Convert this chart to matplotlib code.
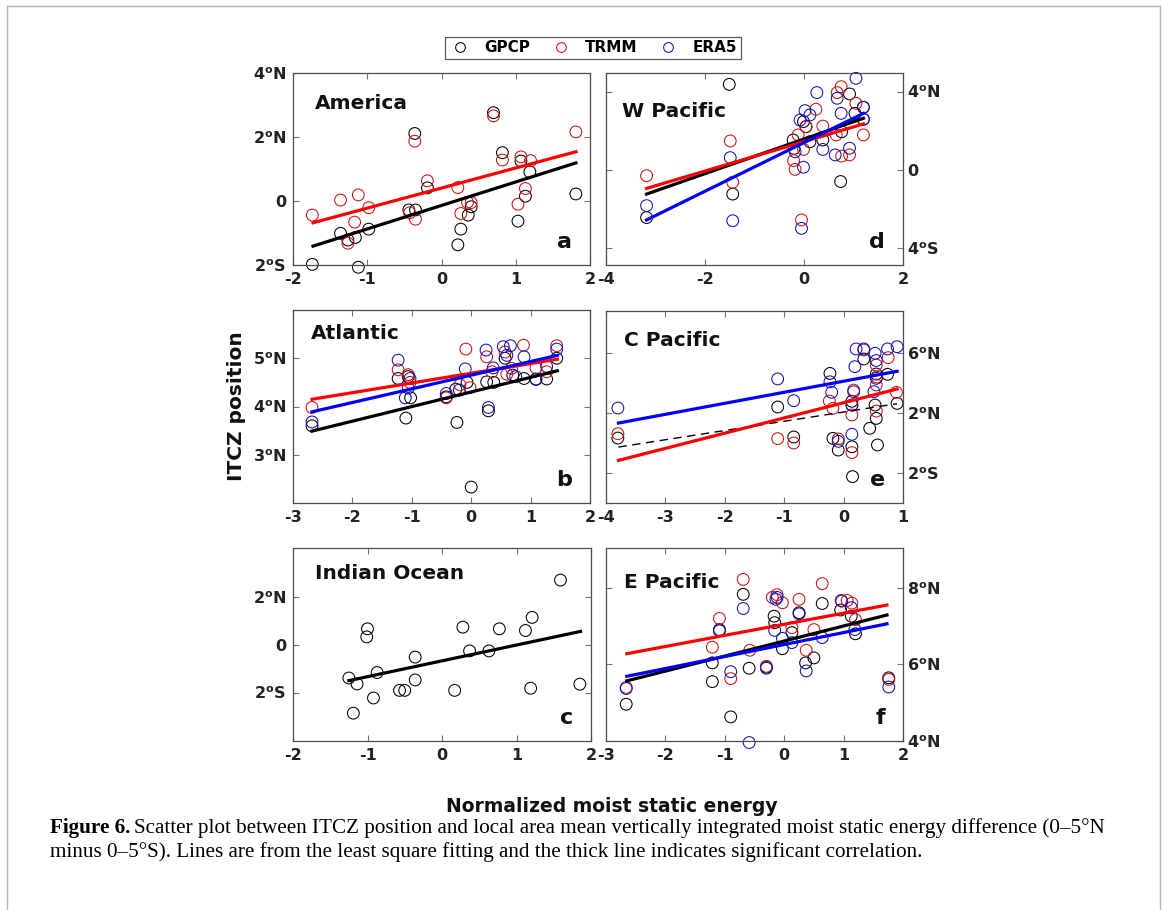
import matplotlib
matplotlib.use("Agg")
import matplotlib.pyplot as plt
from matplotlib.lines import Line2D

plt.rcParams['font.family'] = 'DejaVu Sans'
plt.rcParams['font.weight'] = 'bold'
plt.rcParams['mathtext.default'] = 'bf'

# ---- data ----
# (a) America
am_gpcp_x = [-1.74, -1.36, -1.26, -1.16, -1.12, -0.98, -0.36, -0.44, -0.35, -0.19, 0.22, 0.26, 0.36, 0.40, 0.70, 0.82, 1.03, 1.07, 1.13, 1.19, 1.81]
am_gpcp_y = [-1.98, -1.01, -1.22, -1.14, -2.07, -0.88, 2.11, -0.28, -0.28, 0.41, -1.37, -0.88, -0.44, -0.18, 2.76, 1.51, -0.63, 1.25, 0.15, 0.91, 0.22]
am_trmm_x = [-1.74, -1.36, -1.26, -1.17, -1.12, -0.98, -0.43, -0.36, -0.35, -0.19, 0.22, 0.26, 0.35, 0.40, 0.70, 0.82, 1.03, 1.07, 1.13, 1.20, 1.81]
am_trmm_y = [-0.44, 0.03, -1.32, -0.66, 0.19, -0.21, -0.37, 1.87, -0.57, 0.63, 0.42, -0.39, -0.04, -0.05, 2.66, 1.28, -0.10, 1.38, 0.39, 1.26, 2.16]
am_fit_x = [-1.73, 1.81]
am_fit_gpcp = [-1.41, 1.19]
am_fit_trmm = [-0.68, 1.54]

# (b) Atlantic
at_gpcp_x = [-2.68, -1.23, -1.06, -1.02, -1.10, -0.42, -0.24, -0.26, -0.07, 0.00, 0.26, 0.29, 0.38, 0.57, 0.70, 0.89, 1.09, 1.27, 1.44]
at_gpcp_y = [3.60, 4.58, 4.62, 4.18, 3.76, 4.20, 3.67, 4.36, 4.50, 2.33, 4.51, 3.91, 4.50, 5.00, 4.65, 4.58, 4.56, 4.57, 5.00]
at_trmm_x = [-2.68, -1.23, -1.06, -1.03, -0.42, -0.19, -0.09, -0.02, 0.26, 0.35, 0.57, 0.60, 0.68, 0.88, 1.09, 1.27, 1.44]
at_trmm_y = [3.98, 4.76, 4.66, 4.50, 4.18, 4.45, 5.19, 4.39, 5.03, 4.72, 5.13, 4.67, 4.79, 5.27, 4.80, 4.72, 5.26]
at_era5_x = [-2.68, -1.23, -1.03, -1.06, -1.11, -0.42, -0.20, -0.10, 0.25, 0.29, 0.37, 0.54, 0.60, 0.66, 0.75, 0.89, 1.09, 1.27, 1.44]
at_era5_y = [3.68, 4.96, 4.58, 4.38, 4.18, 4.27, 4.34, 4.78, 5.17, 3.98, 4.80, 5.24, 5.06, 5.26, 4.62, 5.03, 4.57, 4.83, 5.19]
at_fit_x = [-2.68, 1.45]
at_fit_gpcp = [3.49, 4.74]
at_fit_trmm = [4.15, 4.98]
at_fit_era5 = [3.89, 5.06]

# (c) Indian Ocean
io_gpcp_x = [-1.25, -1.14, -1.19, -1.00, -1.01, -0.87, -0.92, -0.57, -0.50, -0.36, -0.36, 0.17, 0.28, 0.37, 0.63, 0.77, 1.12, 1.21, 1.19, 1.59, 1.85]
io_gpcp_y = [-1.39, -1.64, -2.87, 0.68, 0.34, -1.16, -2.23, -1.91, -1.91, -0.51, -1.47, -1.91, 0.75, -0.25, -0.25, 0.68, 0.61, 1.16, -1.82, 2.73, -1.65]
io_fit_x = [-1.25, 1.86]
io_fit_gpcp = [-1.50, 0.57]

# (d) W Pacific
wp_gpcp_x = [-3.18, -1.51, -1.44, -0.22, -0.20, -0.01, 0.04, 0.12, 0.38, 0.74, 0.76, 0.92, 1.03, 1.20, 1.20]
wp_gpcp_y = [-2.43, 4.37, -1.23, 1.53, 1.10, 2.47, 2.21, 1.44, 1.53, -0.59, 1.95, 3.88, 2.89, 3.20, 2.59]
wp_trmm_x = [-3.18, -1.49, -1.44, -0.21, -0.18, -0.12, -0.05, -0.01, 0.04, 0.24, 0.38, 0.65, 0.67, 0.75, 0.76, 0.92, 1.05, 1.20]
wp_trmm_y = [-0.29, 1.48, -0.63, 0.48, 0.03, 1.79, -2.55, 1.05, 2.21, 3.10, 2.24, 1.79, 3.95, 4.25, 0.71, 0.77, 3.40, 1.79]
wp_era5_x = [-3.18, -1.49, -1.44, -0.18, -0.08, -0.05, -0.01, 0.02, 0.12, 0.26, 0.38, 0.63, 0.67, 0.75, 0.92, 1.05, 1.20, 1.20]
wp_era5_y = [-1.82, 0.63, -2.59, 0.93, 2.55, -2.98, 0.14, 3.03, 2.81, 3.95, 1.05, 0.77, 3.66, 2.89, 1.11, 4.68, 3.20, 2.59]
wp_fit_x = [-3.18, 1.20]
wp_fit_gpcp = [-1.23, 2.64]
wp_fit_trmm = [-0.94, 2.35]
wp_fit_era5 = [-2.55, 2.89]

# (e) C Pacific
cp_gpcp_x = [-3.80, -1.11, -0.84, -0.23, -0.18, -0.09, 0.14, 0.14, 0.15, 0.34, 0.53, 0.55, 0.44, 0.57, 0.74, 0.90, 0.55]
cp_gpcp_y = [0.33, 2.40, 0.40, 4.64, 0.31, -0.47, 2.78, -0.25, -2.24, 5.60, 2.53, 1.64, 0.98, -0.13, 4.58, 2.64, 4.60]
cp_trmm_x = [-3.80, -1.11, -0.84, -0.24, -0.18, -0.09, 0.17, 0.14, 0.14, 0.14, 0.34, 0.55, 0.55, 0.55, 0.75, 0.89, 0.56]
cp_trmm_y = [0.62, 0.29, 0.00, 2.80, 2.31, 0.27, 3.53, 2.53, 1.87, -0.64, 6.20, 5.20, 3.87, 2.13, 5.69, 3.38, 4.40]
cp_era5_x = [-3.80, -1.11, -0.84, -0.23, -0.20, -0.09, 0.19, 0.17, 0.14, 0.14, 0.21, 0.34, 0.53, 0.55, 0.55, 0.51, 0.74, 0.90]
cp_era5_y = [2.33, 4.27, 2.82, 4.08, 3.38, 0.11, 5.09, 3.42, 2.53, 0.58, 6.27, 6.27, 5.98, 5.50, 4.31, 3.42, 6.27, 6.42]
cp_fit_x = [-3.79, 0.90]
cp_fit_gpcp = [-0.27, 2.62]
cp_fit_trmm = [-1.16, 3.60]
cp_fit_era5 = [1.33, 4.78]

# (f) E Pacific
ep_gpcp_x = [-2.66, -1.21, -1.21, -1.09, -0.90, -0.69, -0.59, -0.30, -0.17, -0.16, -0.03, 0.13, 0.25, 0.36, 0.50, 0.64, 0.95, 1.13, 1.20, 1.76]
ep_gpcp_y = [4.96, 6.04, 5.55, 6.88, 4.63, 7.83, 5.90, 5.93, 7.26, 7.09, 6.41, 6.83, 7.35, 6.04, 6.17, 7.59, 7.42, 7.26, 6.80, 5.65]
ep_trmm_x = [-2.66, -1.21, -1.09, -0.90, -0.69, -0.58, -0.30, -0.20, -0.12, -0.03, 0.13, 0.25, 0.37, 0.50, 0.64, 0.97, 1.06, 1.14, 1.20, 1.76]
ep_trmm_y = [5.40, 6.45, 7.20, 5.63, 8.22, 6.37, 5.95, 7.75, 7.82, 7.61, 6.96, 7.70, 6.37, 6.91, 8.11, 7.65, 7.67, 7.60, 7.17, 5.61]
ep_era5_x = [-2.66, -1.09, -0.90, -0.69, -0.59, -0.30, -0.14, -0.12, -0.16, -0.03, 0.13, 0.25, 0.37, 0.64, 0.96, 1.13, 1.19, 1.76]
ep_era5_y = [5.37, 6.91, 5.81, 7.46, 3.96, 5.90, 7.70, 7.75, 6.89, 6.68, 6.57, 7.32, 5.83, 6.70, 7.67, 7.48, 6.91, 5.41]
ep_fit_x = [-2.65, 1.73]
ep_fit_gpcp = [5.57, 7.29]
ep_fit_trmm = [6.28, 7.55]
ep_fit_era5 = [5.69, 7.06]

sources = ['GPCP', 'TRMM', 'ERA5']
marker_col = {'GPCP': 'k', 'TRMM': '#cc1111', 'ERA5': '#1111bb'}
line_col = {'GPCP': 'k', 'TRMM': 'red', 'ERA5': 'blue'}

W, H = 1167, 910
fig = plt.figure(figsize=(W / 100, H / 100), dpi=100)

panels = [
    dict(name='America', letter='a', box=(293, 73, 590, 265), side='left',
         xlim=(-2, 2), xticks=[-2, -1, 0, 1, 2], ylim=(-2, 4), yticks=[-2, 0, 2, 4],
         ylabels=['2$^o$S', '0', '2$^o$N', '4$^o$N'], title_pos=(0.074, 0.84),
         pts={'GPCP': (am_gpcp_x, am_gpcp_y), 'TRMM': (am_trmm_x, am_trmm_y)},
         fit_x=am_fit_x, fits={'GPCP': am_fit_gpcp, 'TRMM': am_fit_trmm}),
    dict(name='W Pacific', letter='d', box=(606, 73, 903, 265), side='right',
         xlim=(-4, 2), xticks=[-4, -2, 0, 2], ylim=(-4.85, 4.95), yticks=[-4, 0, 4],
         ylabels=['4$^o$S', '0', '4$^o$N'], title_pos=(0.053, 0.80),
         pts={'GPCP': (wp_gpcp_x, wp_gpcp_y), 'TRMM': (wp_trmm_x, wp_trmm_y), 'ERA5': (wp_era5_x, wp_era5_y)},
         fit_x=wp_fit_x, fits={'GPCP': wp_fit_gpcp, 'TRMM': wp_fit_trmm, 'ERA5': wp_fit_era5}),
    dict(name='Atlantic', letter='b', box=(293, 310, 590, 503), side='left',
         xlim=(-3, 2), xticks=[-3, -2, -1, 0, 1, 2], ylim=(2, 6), yticks=[3, 4, 5],
         ylabels=['3$^o$N', '4$^o$N', '5$^o$N'], title_pos=(0.06, 0.88),
         pts={'GPCP': (at_gpcp_x, at_gpcp_y), 'TRMM': (at_trmm_x, at_trmm_y), 'ERA5': (at_era5_x, at_era5_y)},
         fit_x=at_fit_x, fits={'GPCP': at_fit_gpcp, 'TRMM': at_fit_trmm, 'ERA5': at_fit_era5}),
    dict(name='C Pacific', letter='e', box=(606, 311, 903, 503), side='right',
         xlim=(-4, 1), xticks=[-4, -3, -2, -1, 0, 1], ylim=(-4, 8.8), yticks=[-2, 2, 6],
         ylabels=['2$^o$S', '2$^o$N', '6$^o$N'], title_pos=(0.061, 0.845),
         pts={'GPCP': (cp_gpcp_x, cp_gpcp_y), 'TRMM': (cp_trmm_x, cp_trmm_y), 'ERA5': (cp_era5_x, cp_era5_y)},
         fit_x=cp_fit_x, fits={'GPCP': cp_fit_gpcp, 'TRMM': cp_fit_trmm, 'ERA5': cp_fit_era5},
         dashed=['GPCP']),
    dict(name='Indian Ocean', letter='c', box=(293, 548, 591, 741), side='left',
         xlim=(-2, 2), xticks=[-2, -1, 0, 1, 2], ylim=(-4.04, 4.08), yticks=[-2, 0, 2],
         ylabels=['2$^o$S', '0', '2$^o$N'], title_pos=(0.074, 0.87),
         pts={'GPCP': (io_gpcp_x, io_gpcp_y)},
         fit_x=io_fit_x, fits={'GPCP': io_fit_gpcp}),
    dict(name='E Pacific', letter='f', box=(606, 548, 903, 741), side='right',
         xlim=(-3, 2), xticks=[-3, -2, -1, 0, 1, 2], ylim=(4, 9.04), yticks=[4, 6, 8],
         ylabels=['4$^o$N', '6$^o$N', '8$^o$N'], title_pos=(0.062, 0.82),
         pts={'GPCP': (ep_gpcp_x, ep_gpcp_y), 'TRMM': (ep_trmm_x, ep_trmm_y), 'ERA5': (ep_era5_x, ep_era5_y)},
         fit_x=ep_fit_x, fits={'GPCP': ep_fit_gpcp, 'TRMM': ep_fit_trmm, 'ERA5': ep_fit_era5}),
]

for p in panels:
    l, t, r, b = p['box']
    ax = fig.add_axes([l / W, 1 - b / H, (r - l) / W, (b - t) / H])
    for s in sources:
        if s in p['pts']:
            xs, ys = p['pts'][s]
            ax.scatter(xs, ys, s=72, facecolors='none', edgecolors=marker_col[s],
                       linewidths=0.75, clip_on=False, zorder=2)
    for s in sources:
        if s in p['fits']:
            if s in p.get('dashed', []):
                ax.plot(p['fit_x'], p['fits'][s], color=line_col[s], lw=1.0, ls=(0, (6, 4)), zorder=3)
            else:
                ax.plot(p['fit_x'], p['fits'][s], color=line_col[s], lw=2.3, zorder=3)
    ax.set_xlim(p['xlim'])
    ax.set_ylim(p['ylim'])
    ax.set_xticks(p['xticks'])
    ax.set_xticklabels([str(v) for v in p['xticks']])
    ax.set_yticks(p['yticks'])
    ax.set_yticklabels(p['ylabels'])
    ax.tick_params(direction='in', length=4, width=0.8, color='0.45', top=True, right=True,
                   labelsize=11.5, labelcolor='#222222')
    ax.tick_params(axis='x', pad=5)
    if p['side'] == 'right':
        ax.tick_params(axis='y', labelleft=False, labelright=True, pad=3)
    else:
        ax.tick_params(axis='y', pad=5)
    for sp in ax.spines.values():
        sp.set_color('0.3')
        sp.set_linewidth(0.9)
    ax.text(p['title_pos'][0], p['title_pos'][1], p['name'], transform=ax.transAxes,
            fontsize=14.5, ha='left', va='center', color='#111111')
    ax.text(0.94, 0.12, p['letter'], transform=ax.transAxes, fontsize=16,
            ha='right', va='center', color='#111111')

handles = [Line2D([], [], ls='none', marker='o', markersize=7, markerfacecolor='none',
                  markeredgecolor=marker_col[s], markeredgewidth=0.75) for s in sources]
leg = fig.legend(handles, sources, loc='center', bbox_to_anchor=(593 / W, 1 - 48 / H), ncol=3,
                 fancybox=False, edgecolor='0.2', fontsize=11, handlelength=1.4,
                 handletextpad=0.9, columnspacing=1.3, borderpad=0.25)
leg.get_frame().set_linewidth(0.9)

fig.text(237 / W, 1 - 406 / H, 'ITCZ position', rotation=90, fontsize=14.5,
         ha='center', va='center', color='#111111')
fig.text(612 / W, 1 - 806 / H, 'Normalized moist static energy', fontsize=13.5,
         ha='center', va='center', color='#111111')

# caption
cap_size = 15.2
cap1 = fig.text(50 / W, 1 - 828 / H, 'Figure 6.', family='Liberation Serif', weight='bold',
                fontsize=cap_size, va='center')
renderer = fig.canvas.get_renderer()
bb = cap1.get_window_extent(renderer)
fig.text(bb.x1 / W + 4 / W, 1 - 828 / H,
         'Scatter plot between ITCZ position and local area mean vertically integrated '
         'moist static energy difference (0\u20135\u00b0N',
         family='Liberation Serif', weight='normal', fontsize=cap_size, va='center')
fig.text(50 / W, 1 - 852 / H,
         'minus 0\u20135\u00b0S). Lines are from the least square fitting and the thick line '
         'indicates significant correlation.',
         family='Liberation Serif', weight='normal', fontsize=cap_size, va='center')

# page frame
for xs, ys in [([7, 7], [910, 6]), ([7, 1160], [6, 6]), ([1160, 1160], [6, 910])]:
    fig.add_artist(Line2D([x / W for x in xs], [1 - y / H for y in ys],
                          transform=fig.transFigure, color='0.7', lw=1))

fig.savefig('out.png', dpi=100)
